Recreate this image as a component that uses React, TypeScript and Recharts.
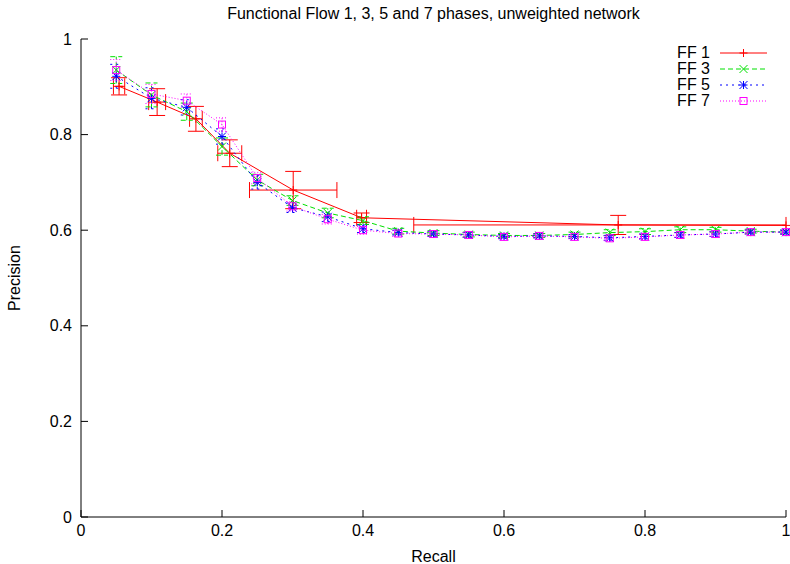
import { ScatterChart, Scatter, XAxis, YAxis, ErrorBar, Legend, Label } from 'recharts';

const FONT = '"Liberation Sans", Arial, sans-serif';

// FF 1: averaged points, error in both recall and precision
const recallFF1 = [0.054, 0.108, 0.163, 0.211, 0.301, 0.398, 0.762, 1.0];
const precisionFF1 = [0.901, 0.868, 0.833, 0.761, 0.684, 0.626, 0.611, 0.61];
const recallErrFF1 = [0.008, 0.012, 0.009, 0.017, 0.062, 0.007, [0.29, 0.238], 0];
const precisionErrFF1 = [0.018, 0.028, 0.026, 0.028, 0.039, 0.01, 0.02, 0];

// FF 3 / 5 / 7 share the recall steps
const recallSteps = [0.05, 0.1, 0.15, 0.2, 0.25, 0.3, 0.35, 0.4, 0.45, 0.5, 0.55, 0.6, 0.65, 0.7, 0.75, 0.8, 0.85, 0.9, 0.95, 1.0];
const precisionFF3 = [0.935, 0.883, 0.848, 0.775, 0.705, 0.662, 0.636, 0.62, 0.598, 0.594, 0.591, 0.589, 0.589, 0.591, 0.595, 0.597, 0.601, 0.601, 0.598, 0.596];
const errFF3 = [0.028, 0.025, 0.018, 0.018, 0.012, 0.01, 0.01, 0.008, 0.006, 0.005, 0.005, 0.004, 0.004, 0.005, 0.006, 0.006, 0.006, 0.005, 0.004, 0.004];
const precisionFF5 = [0.922, 0.876, 0.857, 0.796, 0.7, 0.647, 0.628, 0.603, 0.595, 0.592, 0.59, 0.587, 0.588, 0.587, 0.584, 0.587, 0.59, 0.592, 0.596, 0.596];
const errFF5 = [0.025, 0.022, 0.016, 0.016, 0.014, 0.01, 0.01, 0.008, 0.005, 0.005, 0.005, 0.004, 0.004, 0.004, 0.005, 0.005, 0.005, 0.005, 0.004, 0.004];
const precisionFF7 = [0.935, 0.885, 0.871, 0.821, 0.709, 0.65, 0.623, 0.6, 0.593, 0.592, 0.59, 0.586, 0.588, 0.586, 0.583, 0.586, 0.59, 0.592, 0.596, 0.596];
const errFF7 = [0.022, 0.02, 0.014, 0.014, 0.012, 0.01, 0.01, 0.008, 0.006, 0.005, 0.005, 0.004, 0.004, 0.004, 0.005, 0.005, 0.005, 0.005, 0.004, 0.004];

const ticks = [0, 0.2, 0.4, 0.6, 0.8, 1];

const ff1Data = recallFF1.map((x, i) => ({ x, y: precisionFF1[i], ex: recallErrFF1[i], ey: precisionErrFF1[i] }));
const build = (ys: number[], errs: number[]) => recallSteps.map((x, i) => ({ x, y: ys[i], ey: errs[i] }));

const series = [
  { name: 'FF 1', color: '#ff0000', dash: undefined, marker: 'plus' },
  { name: 'FF 3', color: '#00e000', dash: '5 3', marker: 'cross' },
  { name: 'FF 5', color: '#0000ff', dash: '2 4', marker: 'star' },
  { name: 'FF 7', color: '#ff00ff', dash: '1 2', marker: 'square' },
];

const Marker = ({ cx, cy, type, color }: any) => {
  const s = 4;
  if (cx == null || cy == null) return null;
  if (type === 'plus')
    return <path d={`M${cx - s},${cy}H${cx + s}M${cx},${cy - s}V${cy + s}`} stroke={color} fill="none" />;
  if (type === 'cross')
    return <path d={`M${cx - s},${cy - s}L${cx + s},${cy + s}M${cx - s},${cy + s}L${cx + s},${cy - s}`} stroke={color} fill="none" />;
  if (type === 'star')
    return (
      <path
        d={`M${cx - s},${cy}H${cx + s}M${cx},${cy - s}V${cy + s}M${cx - s},${cy - s}L${cx + s},${cy + s}M${cx - s},${cy + s}L${cx + s},${cy - s}`}
        stroke={color}
        fill="none"
      />
    );
  return <rect x={cx - 3.5} y={cy - 3.5} width={7} height={7} stroke={color} fill="none" />;
};

const LegendBox = () => (
  <div style={{ fontFamily: FONT, fontSize: 16, lineHeight: '16px' }}>
    {series.map((s) => (
      <div key={s.name} style={{ display: 'flex', alignItems: 'center', height: 16 }}>
        <span style={{ width: 70, textAlign: 'right', color: '#000' }}>{s.name}</span>
        <svg width={58} height={16} style={{ marginLeft: 10 }}>
          <line x1={0} y1={8} x2={47} y2={8} stroke={s.color} strokeDasharray={s.dash} />
          <Marker cx={23.5} cy={8} type={s.marker} color={s.color} />
        </svg>
      </div>
    ))}
  </div>
);

const tickStyle = { fill: '#000', fontSize: 16, fontFamily: FONT };

export default function App() {
  return (
    <div style={{ position: 'absolute', left: 0, top: 0, width: 790, height: 564, background: '#fff' }}>
      <div
        style={{
          position: 'absolute',
          top: 5,
          left: 81,
          width: 705,
          textAlign: 'center',
          fontFamily: FONT,
          fontSize: 16,
          color: '#000',
        }}
      >
        Functional Flow 1, 3, 5 and 7 phases, unweighted network
      </div>
      <ScatterChart width={790} height={564} margin={{ top: 39, right: 4, left: 0, bottom: 0 }}>
        <XAxis
          type="number"
          dataKey="x"
          domain={[0, 1]}
          ticks={ticks}
          height={47}
          stroke="#000"
          tickSize={-7}
          tickMargin={15}
          tick={tickStyle}
        >
          <Label value="Recall" position="insideBottom" offset={2} style={{ fill: '#000', fontSize: 16, fontFamily: FONT }} />
        </XAxis>
        <XAxis xAxisId="top" orientation="top" type="number" domain={[0, 1]} ticks={ticks} height={0} stroke="#000" tickSize={-7} tick={false} />
        <YAxis
          type="number"
          dataKey="y"
          domain={[0, 1]}
          ticks={ticks}
          width={81}
          stroke="#000"
          tickSize={-7}
          tickMargin={16}
          tick={tickStyle}
        >
          <Label value="Precision" angle={-90} position="insideLeft" offset={14} style={{ fill: '#000', fontSize: 16, fontFamily: FONT, textAnchor: 'middle' }} />
        </YAxis>
        <YAxis yAxisId="right" orientation="right" type="number" domain={[0, 1]} ticks={ticks} width={0} stroke="#000" tickSize={-7} tick={false} />
        <Legend
          layout="vertical"
          align="center"
          verticalAlign="middle"
          content={() => <LegendBox />}
          wrapperStyle={{ top: 45, left: 640, width: 140 }}
        />

        <Scatter
          name="FF 1"
          data={ff1Data}
          isAnimationActive={false}
          line={{ stroke: series[0].color, strokeWidth: 1 }}
          lineType="joint"
          shape={(p: any) => <Marker cx={p.cx} cy={p.cy} type="plus" color={series[0].color} />}
        >
          <ErrorBar dataKey="ey" direction="y" width={8} stroke={series[0].color} strokeWidth={1} />
          <ErrorBar dataKey="ex" direction="x" width={8} stroke={series[0].color} strokeWidth={1} />
        </Scatter>
        {[
          { data: build(precisionFF3, errFF3), s: series[1] },
          { data: build(precisionFF5, errFF5), s: series[2] },
          { data: build(precisionFF7, errFF7), s: series[3] },
        ].map(({ data, s }) => (
          <Scatter
            key={s.name}
            name={s.name}
            data={data}
            isAnimationActive={false}
            line={{ stroke: s.color, strokeWidth: 1, strokeDasharray: s.dash }}
            lineType="joint"
            shape={(p: any) => <Marker cx={p.cx} cy={p.cy} type={s.marker} color={s.color} />}
          >
            <ErrorBar dataKey="ey" direction="y" width={6} stroke={s.color} strokeWidth={1} strokeDasharray={s.dash} />
          </Scatter>
        ))}
      </ScatterChart>
    </div>
  );
}
